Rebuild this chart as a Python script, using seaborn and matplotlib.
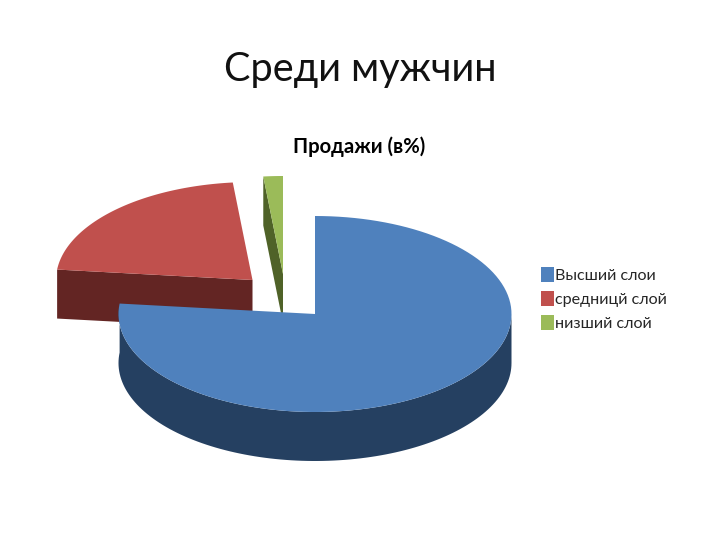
"""3D-style exploded pie: sales share by layer, among men."""
import matplotlib

matplotlib.use("Agg")
import matplotlib.pyplot as plt
import numpy as np
import seaborn as sns
from matplotlib.patches import Patch

sns.set_theme(style="white")
plt.rcParams["font.family"] = ["Lato", "Noto Sans", "DejaVu Sans"]

TITLE = "Среди мужчин"
SUBTITLE = "Продажи (в%)"
labels = ["Высший слои", "средницй слой", "низший слой"]
values = [76.7, 21.7, 1.6]
top_colors = ["#4f81bd", "#c0504d", "#9bbb59"]
wall_colors = ["#254061", "#632523", "#4f6228"]

# pie geometry in figure pixels
RX, RY, DEPTH = 196.5, 98, 49
centers = [(315, 314), (252.5, 280), (283, 274)]
draw_order = [1, 2, 0]


def rim(cx, cy, a0, a1, n=120):
    """Points on the ellipse, angle clockwise from 12 o'clock, in degrees."""
    t = np.radians(np.linspace(a0, a1, n))
    return cx + RX * np.sin(t), cy - RY * np.cos(t)


fig, ax = plt.subplots(figsize=(7.2, 5.4), dpi=100)
ax.set_position([0, 0, 1, 1])
ax.set_xlim(0, 720)
ax.set_ylim(540, 0)
ax.axis("off")

edges = np.concatenate([[0], np.cumsum(values) / np.sum(values) * 360])

for i in draw_order:
    a0, a1 = edges[i], edges[i + 1]
    cx, cy = centers[i]

    # outer wall, only the part that faces the viewer
    lo, hi = max(a0, 90), min(a1, 270)
    if lo < 270 and hi > 90:
        x, y = rim(cx, cy, lo, a1 if a1 > 270 else hi)
        ax.fill(np.r_[x, x[::-1]], np.r_[y, y[::-1] + DEPTH],
                color=wall_colors[i], lw=0)
    # cut face of the slices that start on the far side
    if a0 > 270:
        x, y = rim(cx, cy, a0, a0, 1)
        ax.fill([x[0], cx, cx, x[0]],
                [y[0], cy, cy + DEPTH, y[0] + DEPTH],
                color=wall_colors[i], lw=0)
    # top
    x, y = rim(cx, cy, a0, a1)
    ax.fill(np.r_[cx, x], np.r_[cy, y], color=top_colors[i], lw=0)

ax.text(360.5, 69, TITLE, ha="center", va="center", fontsize=28.6, color="#111111")
ax.text(359.5, 147, SUBTITLE, ha="center", va="center", fontsize=14.6,
        fontweight="bold", color="black")

handles = [Patch(facecolor=c, edgecolor="none") for c in top_colors]
ax.legend(handles, labels, loc="center left", bbox_to_anchor=(541 / 720, 1 - 299 / 540),
          frameon=False, fontsize=11.6, handlelength=0.8, handleheight=1.05,
          handletextpad=0.05, labelspacing=0.5, borderpad=0, borderaxespad=0)

sns.despine(ax=ax, left=True, bottom=True)
fig.savefig("out.png", dpi=100)
plt.close(fig)
